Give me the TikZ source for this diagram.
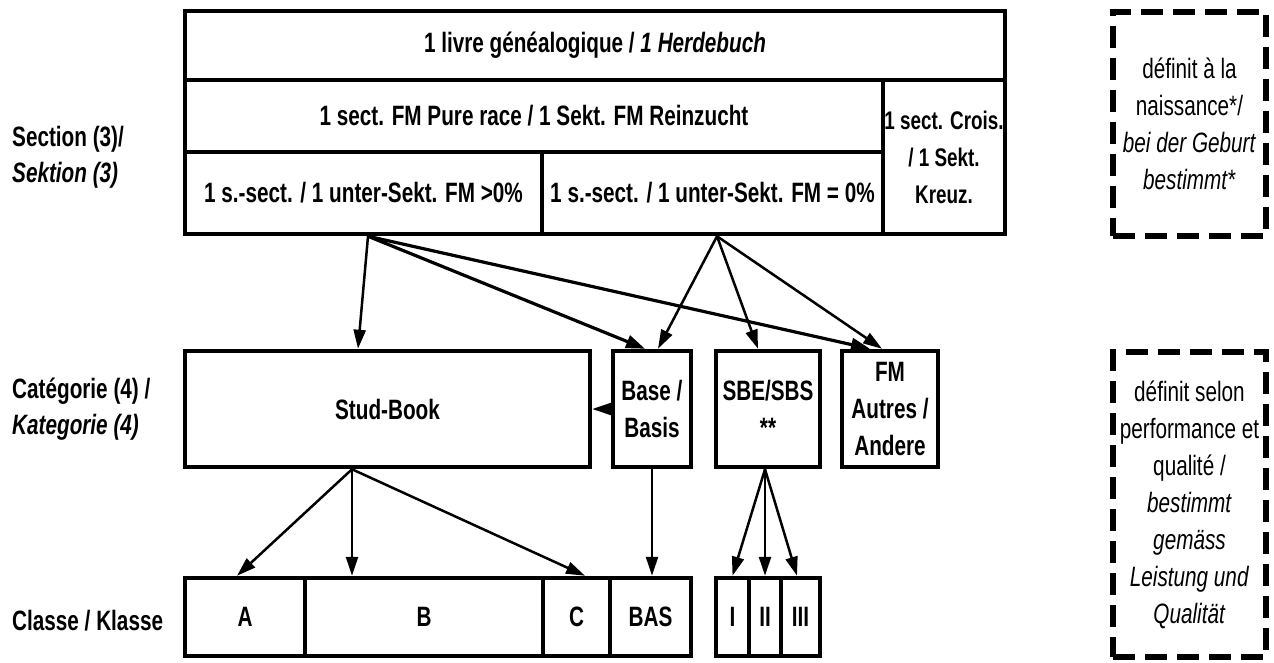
\documentclass[tikz,border=0pt]{standalone}
\usepackage{fontspec}
\setmainfont{Liberation Sans}[FakeStretch=0.74]
\usetikzlibrary{arrows.meta}
\begin{document}
\begin{tikzpicture}[x=1pt,y=-1pt,
  cell/.style={draw, line width=4.5pt, inner sep=0pt, align=center, font=\fontsize{28}{37}\selectfont\bfseries},
  small/.style={font=\fontsize{25.5}{37}\selectfont\bfseries},
  lab/.style={inner sep=0pt, align=left, anchor=west, font=\fontsize{28}{36}\selectfont\bfseries},
  note/.style={draw, line width=5.5pt, dash pattern=on 22pt off 10pt, inner sep=0pt, align=center, font=\fontsize{28}{37}\selectfont},
  arr/.style={line width=2.5pt, -{Triangle[length=19pt,width=12pt]}},
  arrb/.style={line width=3.2pt, -{Triangle[length=19pt,width=13pt]}},
]
\useasboundingbox (0,0) rectangle (1274,662);

% top block
\node[cell, minimum width=820pt, minimum height=69pt] (hb) at (595,45.5) {1 livre généalogique / \textit{1 Herdebuch}};
\node[cell, minimum width=698pt, minimum height=72pt] (pure) at (534,116) {1 sect. FM Pure race / 1 Sekt. FM Reinzucht};
\node[cell, small, minimum width=122pt, minimum height=154pt] (crois) at (944,157) {1 sect. Crois.\\/ 1 Sekt.\\Kreuz.};
\node[cell, minimum width=357pt, minimum height=82pt] (gt0) at (363.5,193) {1 s.-sect. / 1 unter-Sekt. FM >0\%};
\node[cell, minimum width=341pt, minimum height=82pt] (eq0) at (712.5,193) {1 s.-sect. / 1 unter-Sekt. FM = 0\%};

% middle row
\node[cell, minimum width=405pt, minimum height=116pt] (stud) at (387.5,409) {Stud-Book};
\node[cell, minimum width=78pt, minimum height=116pt] (base) at (652,409) {Base /\\Basis};
\node[cell, minimum width=104pt, minimum height=116pt] (sbe) at (768,409) {SBE/SBS\\**};
\node[cell, minimum width=96pt, minimum height=116pt] (fm) at (890,409) {FM\\Autres /\\Andere};

% bottom row
\node[cell, minimum width=120pt, minimum height=78pt] (ca) at (245,617) {A};
\node[cell, minimum width=238pt, minimum height=78pt] (cb) at (424,617) {B};
\node[cell, minimum width=67pt, minimum height=78pt] (cc) at (576.5,617) {C};
\node[cell, minimum width=81pt, minimum height=78pt] (bas) at (650.5,617) {BAS};
\node[cell, minimum width=33pt, minimum height=78pt] (c1) at (732.5,617) {I};
\node[cell, minimum width=32pt, minimum height=78pt] (c2) at (765,617) {II};
\node[cell, minimum width=39pt, minimum height=78pt] (c3) at (800.5,617) {III};

% left labels
\node[lab] (lsec) at (12,157) {Section (3)/\\\textit{Sektion (3)}};
\node[lab] (lcat) at (12,409) {Catégorie (4) /\\\textit{Kategorie (4)}};
\node[lab] (lcla) at (12,621) {Classe / Klasse};

% dashed notes
\node[note, minimum width=153pt, minimum height=224pt] (n1) at (1189.5,124) {définit à la\\naissance*/\\\textit{bei der Geburt}\\\textit{bestimmt*}};
\node[note, minimum width=153pt, minimum height=305pt] (n2) at (1189.5,504.5) {définit selon\\performance et\\qualité /\\\textit{bestimmt}\\\textit{gemäss}\\\textit{Leistung und}\\\textit{Qualität}};

% arrows from sections to categories
\draw[arr]  ([xshift=4.5pt]gt0.south) -- ([xshift=-29.5pt]stud.north);
\draw[arrb] ([xshift=4.5pt]gt0.south) -- ([xshift=-7pt]base.north);
\draw[arrb] ([xshift=4.5pt]gt0.south) -- ([xshift=-20pt]fm.north);
\draw[arr]  ([xshift=4.5pt]eq0.south) -- ([xshift=6pt]base.north);
\draw[arr]  ([xshift=4.5pt]eq0.south) -- ([xshift=-10pt]sbe.north);
\draw[arr]  ([xshift=4.5pt]eq0.south) -- ([xshift=-8pt]fm.north);
\draw[arr]  (base.west) -- (stud.east);

% arrows from categories to classes
\draw[arr] ([xshift=-35.5pt]stud.south) -- ([xshift=-8pt]ca.north);
\draw[arr] ([xshift=-35.5pt]stud.south) -- ([xshift=-72pt]cb.north);
\draw[arr] ([xshift=-35.5pt]stud.south) -- ([xshift=8.5pt]cc.north);
\draw[arr] (base.south) -- ([xshift=1.5pt]bas.north);
\draw[arr] ([xshift=-3pt]sbe.south) -- (c1.north);
\draw[arr] ([xshift=-3pt]sbe.south) -- (c2.north);
\draw[arr] ([xshift=-3pt]sbe.south) -- ([xshift=-3.5pt]c3.north);
\end{tikzpicture}
\end{document}
